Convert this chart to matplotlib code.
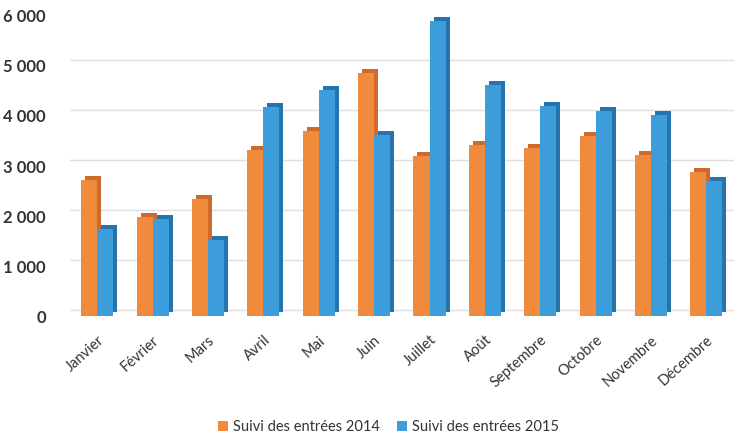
import numpy as np
import matplotlib
matplotlib.use("Agg")
import matplotlib.pyplot as plt
import matplotlib.transforms as mtransforms
from matplotlib.ticker import FuncFormatter

plt.rcParams['font.family'] = ['Lato', 'DejaVu Sans']

# data
months = ["Janvier", "Février", "Mars", "Avril", "Mai", "Juin", "Juillet",
          "Août", "Septembre", "Octobre", "Novembre", "Décembre"]
entrees_2014 = [2720, 1980, 2350, 3320, 3700, 4850, 3200, 3420, 3370, 3600, 3220, 2880]
entrees_2015 = [1750, 1940, 1530, 4180, 4520, 3620, 5900, 4620, 4200, 4100, 4020, 2700]
labels = ["Suivi des entrées 2014", "Suivi des entrées 2015"]

orange, orange_dark = "#F08A3C", "#CF6A2C"
blue, blue_dark = "#3D9DDB", "#2574B0"

fig = plt.figure(figsize=(7.4, 4.41), dpi=100)
ax = fig.add_axes([0.094, 0.283, 0.898, 0.681])

x = np.arange(len(months))
w = 0.29

# fake 3D depth: a darker copy shifted up/right behind each bar
depth = mtransforms.ScaledTranslation(4 / 100, 4 / 100, fig.dpi_scale_trans)
ax.bar(x - w / 2, entrees_2014, w, color=orange_dark, transform=ax.transData + depth, zorder=2)
ax.bar(x + w / 2, entrees_2015, w, color=blue_dark, transform=ax.transData + depth, zorder=2)
ax.bar(x - w / 2, entrees_2014, w, color=orange, zorder=3, label=labels[0])
ax.bar(x + w / 2, entrees_2015, w, color=blue, zorder=3, label=labels[1])

# gridlines on the back wall
back = mtransforms.ScaledTranslation(0, 6 / 100, fig.dpi_scale_trans)
for t in range(0, 7000, 1000):
    ax.plot([0, 1], [t, t], color="#e0e0e0", lw=1, zorder=1,
            transform=ax.get_yaxis_transform() + back)

ax.set_xlim(-0.5, 11.5)
ax.set_ylim(0, 6000)
ax.set_yticks(range(0, 7000, 1000))
ax.yaxis.set_major_formatter(FuncFormatter(lambda v, p: f"{int(v):,}".replace(",", "\u202f")))
ax.tick_params(axis="y", length=0, pad=17, labelsize=12, labelcolor="#333333")
for lab in ax.get_yticklabels():
    lab.set_fontweight("bold")
ax.set_xticks(x)
ax.set_xticklabels(months, rotation=42, ha="right", rotation_mode="anchor",
                   fontsize=10.5, color="#333333")
ax.tick_params(axis="x", length=0, pad=12)
for s in ax.spines.values():
    s.set_visible(False)

fig.legend(loc="lower center", ncol=2, frameon=False, fontsize=10.5,
           bbox_to_anchor=(0.525, -0.015), handlelength=0.7, handleheight=0.7,
           columnspacing=1.2, handletextpad=0.3, labelcolor="#333333")

fig.savefig("out.png", dpi=100)
